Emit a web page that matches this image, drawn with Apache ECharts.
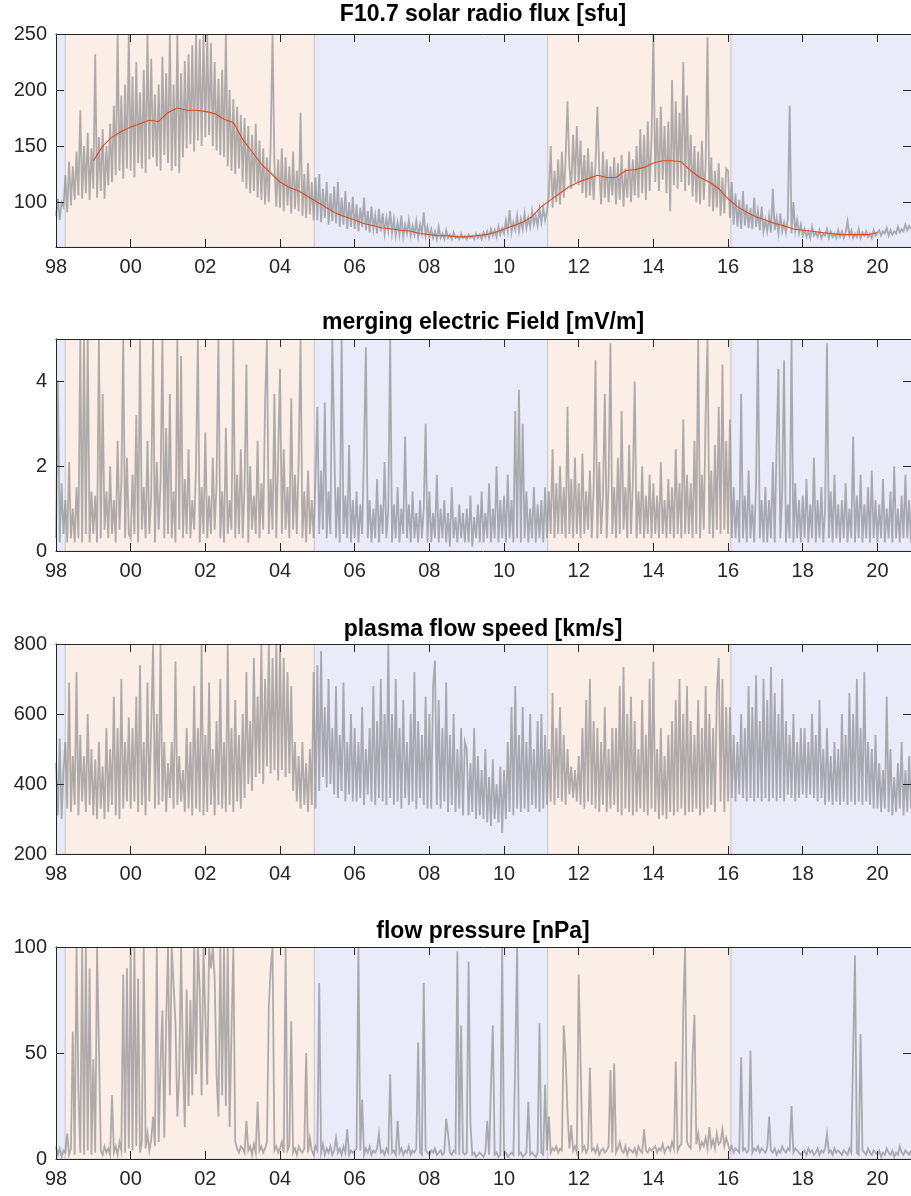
<!DOCTYPE html>
<html><head><meta charset="utf-8">
<script src="https://cdn.jsdelivr.net/npm/echarts@6/dist/echarts.min.js"></script>
<style>html,body{margin:0;padding:0;background:#fff}#c{width:911px;height:1196px}</style>
</head><body><div id="c"></div>
<script>
// ---------------- DATA ----------------
const startYear = 1998;
const samplesPerYear = 20;           // one row per year, 20 samples per row
const xTickYears = [1998,2000,2002,2004,2006,2008,2010,2012,2014,2016,2018,2020];
const phaseStarts = [1998.0, 1998.25, 2004.92, 2011.17, 2016.08];
const phaseEnds   = [1998.25, 2004.92, 2011.17, 2016.08, 2021.0];
const phaseKinds  = ['min','max','min','max','min'];

const titles = ['F10.7 solar radio flux [sfu]','merging electric Field [mV/m]','plasma flow speed [km/s]','flow pressure [nPa]'];
const yTicksF107 = [100,150,200,250];
const yTicksEfield = [0,2,4];
const yTicksSpeed = [200,400,600,800];
const yTicksPressure = [0,50,100];

const f107Rows = [
 [88,103,84,100,96,124,91,136,97,132,102,145,106,182,103,150,108,162,102,148],
 [112,232,104,158,110,165,103,150,115,170,118,186,124,250,128,195,121,205,130,250],
 [128,212,122,225,135,198,130,218,126,250,138,228,140,196,132,205,128,230,142,215],
 [135,250,128,205,132,250,126,215,140,226,148,232,152,240,145,250,155,245,150,250],
 [158,250,160,242,150,225,146,210,142,218,140,250,132,200,128,192,125,185,130,178],
 [118,175,112,168,108,160,110,170,104,155,102,148,98,140,100,152,250,135,96,138],
 [95,148,92,140,97,132,90,145,94,128,92,180,88,125,86,135,89,118,84,122],
 [84,125,82,112,86,118,80,108,83,114,81,118,78,104,80,110,76,100,78,105],
 [76,98,74,95,78,104,75,92,73,96,76,88,72,94,74,90,72,86,75,92],
 [72,85,70,82,71,88,69,80,72,84,70,79,71,83,69,80,72,91,70,78],
 [69,76,68,74,67,78,68,72,67,75,68,71,67,73,68,70,67,72,68,70],
 [67,71,68,70,67,72,68,71,67,73,69,74,68,76,70,75,69,78,71,77],
 [72,84,74,93,73,82,75,88,74,85,76,90,77,86,78,92,80,88,79,94],
 [82,95,84,92,105,150,95,128,100,138,98,145,104,140,190,132,112,160,118,168],
 [115,155,108,142,104,148,106,136,102,135,185,130,98,145,104,138,100,132,106,140],
 [98,135,102,142,96,130,104,145,100,138,106,150,104,165,108,160,102,172,110,158],
 [250,118,175,110,185,120,168,108,172,92,209,115,190,112,180,118,225,110,195,115],
 [160,105,150,100,145,98,155,102,135,247,96,140,92,128,95,135,88,122,90,130],
 [128,86,118,80,108,78,102,76,110,79,98,77,95,76,104,78,92,75,96,74],
 [84,74,88,73,112,75,86,72,90,74,82,73,85,186,72,100,74,84,72,80],
 [70,76,69,74,68,78,70,73,69,75,68,72,70,76,68,74,69,72,68,75],
 [69,74,68,73,83,70,75,68,72,69,76,68,73,70,74,69,72,68,75,70],
 [71,75,70,74,72,77,70,75,71,74,72,78,73,76,74,80,75,79,76]
];
// smoothed F10.7 (red), quarterly from 1999.00
const f107SmoothStart = 1999.0;
const f107SmoothPerYear = 4;
const f107Smooth = [137,150,158,163, 167,170,173,172, 180,184,182,182, 181,179,174,171,
 156,145,134,126, 118,113,110,105, 100,95,90,87, 84,81,79,77, 76,75,74,72, 71,70,70,69,
 69,70,71,73, 76,79,82,87, 96,102,108,114, 118,121,124,122, 122,128,129,131, 135,137,137,136,
 128,122,118,112, 103,96,91,87, 84,81,79,76, 75,74,73,72, 71,71,71,71, 73];

const efieldRows = [
 [0.3,4.0,0.2,1.6,0.4,1.2,0.2,2.1,0.3,1.0,0.2,1.5,0.3,5,0.2,5,0.4,5,0.2,1.4],
 [0.4,1.3,0.2,5,0.3,3.7,0.5,1.4,0.3,2.0,0.4,1.2,0.2,2.6,0.5,1.6,5,0.3,2.2,0.4],
 [0.3,1.8,0.4,3.2,0.2,5,0.5,1.5,0.3,2.6,0.4,1.3,5,0.2,2.1,0.5,1.6,5,0.3,2.9],
 [0.4,3.7,0.3,1.4,0.2,5,0.5,4.6,0.3,1.7,0.4,2.4,0.3,1.2,0.5,2.0,5,0.2,1.5,0.4],
 [2.8,0.3,1.3,0.4,2.2,0.5,1.6,5,0.3,1.4,0.2,2.9,0.4,1.2,0.5,5,0.3,1.8,0.4,2.4],
 [0.3,1.5,4.4,0.2,2.0,0.5,1.3,0.4,2.6,0.3,1.6,0.5,3.5,5,0.4,1.7,0.5,3.7,0.3,2.2],
 [4.3,0.4,2.4,0.5,1.5,0.3,3.6,0.5,1.8,0.4,2.2,5,0.3,1.4,0.2,1.9,0.4,1.2,0.3,1.7],
 [3.4,0.4,1.9,0.5,3.5,0.3,1.4,0.4,5,5,0.3,1.5,0.2,5,0.4,1.3,0.3,2.5,0.2,1.2],
 [0.3,1.4,0.2,1.1,0.4,2.4,4.8,0.3,1.2,0.2,1.0,0.3,1.7,0.2,1.1,0.4,2.1,0.3,1.0,5],
 [0.2,1.1,0.3,1.5,0.2,1.0,0.4,2.7,0.3,1.1,0.2,1.4,0.3,0.9,0.2,1.2,0.3,1.0,3.0,0.2],
 [1.4,0.2,0.9,0.3,1.8,0.2,1.0,0.3,1.2,0.2,0.9,0.1,1.5,0.3,0.8,0.2,1.1,0.3,0.9,0.2],
 [1.0,0.2,1.3,0.1,0.8,0.3,1.1,0.2,1.4,0.2,0.9,0.3,1.6,0.2,1.0,0.3,2.0,0.2,1.2,0.3],
 [1.3,0.2,1.8,0.3,1.2,0.2,3.3,0.3,3.8,0.2,3.0,0.3,1.4,0.2,1.0,0.3,1.5,0.2,1.1,0.3],
 [1.2,0.2,1.5,0.3,1.4,0.4,2.4,0.3,1.6,0.4,2.0,0.4,1.5,0.3,3.4,0.4,1.7,0.3,2.2,0.4],
 [1.6,0.3,2.3,0.4,1.4,0.5,1.9,0.3,1.5,4.5,0.3,2.1,0.4,1.3,3.7,0.3,1.6,4.9,0.4,1.5],
 [0.3,2.2,0.4,3.3,0.5,1.5,0.3,2.5,0.4,1.6,4.0,0.3,1.4,0.4,2.0,0.3,1.3,0.4,1.8,0.3],
 [1.6,0.4,1.3,0.3,2.1,0.4,1.2,0.3,1.7,0.4,1.5,0.3,2.4,0.4,1.6,0.3,3.1,0.4,1.8,0.4],
 [1.6,0.3,2.6,0.4,5,0.3,1.8,0.5,3.2,5,0.4,1.9,0.3,2.5,0.5,3.4,0.4,4.4,0.5,2.6],
 [0.4,3.1,0.3,1.5,0.3,1.2,0.2,3.7,0.3,1.3,0.2,1.9,0.3,1.1,0.2,1.6,5,0.3,1.2,0.2],
 [1.5,0.2,1.2,0.3,2.1,0.2,2.5,4.3,0.3,1.4,4.5,0.2,1.1,0.3,5,0.2,1.6,0.3,1.2,0.2],
 [1.3,0.3,1.7,0.2,1.1,0.3,2.2,0.2,1.2,0.3,1.5,0.2,1.0,4.9,0.3,1.4,0.2,1.8,0.3,1.1],
 [0.2,1.2,0.3,1.6,0.2,1.0,0.3,2.7,0.2,1.3,0.3,1.8,0.2,1.1,0.3,1.5,0.2,1.9,0.3,1.2],
 [0.2,1.1,0.3,1.7,0.2,1.0,0.3,1.4,0.2,2.0,0.3,1.0,0.2,1.3,0.3,1.8,0.3,1.2,0.2]
];

const speedRows = [
 [460,310,530,300,440,520,330,690,320,480,340,720,310,540,350,480,320,600,340,500],
 [310,470,300,520,330,450,300,560,320,500,340,650,310,560,300,700,330,520,350,590],
 [330,560,350,650,320,740,340,520,310,690,350,560,800,330,600,340,800,350,520,320],
 [460,360,520,330,750,340,480,350,440,320,560,330,520,310,680,330,560,320,800,310],
 [540,320,690,340,500,310,580,340,700,330,520,320,800,340,560,320,640,350,540,330],
 [600,360,720,400,580,380,760,420,650,430,800,400,700,450,800,430,760,440,800,410],
 [800,440,760,420,720,430,680,380,520,350,480,330,520,340,460,320,500,340,720,330],
 [740,380,780,420,620,390,700,400,560,370,680,360,540,380,690,350,520,370,600,350],
 [560,350,520,360,620,340,500,370,560,350,680,340,580,360,700,350,600,340,800,360],
 [600,340,700,350,560,330,640,360,520,340,600,350,720,330,580,360,540,340,650,330],
 [600,330,680,753,340,640,330,560,350,690,320,540,340,600,320,500,330,560,310,520],
 [500,310,460,320,560,300,480,310,440,300,500,290,420,280,470,300,400,290,450,260],
 [440,300,520,320,620,310,680,330,540,320,620,330,520,320,600,340,500,330,580,320],
 [600,330,540,340,500,350,660,340,560,360,620,350,540,340,500,370,450,360,440,350],
 [480,340,560,330,640,350,700,340,580,330,560,320,520,340,620,320,500,330,560,340],
 [560,320,680,310,734,330,600,320,650,310,580,320,500,330,640,320,540,310,700,330],
 [750,320,500,300,560,310,480,300,540,320,580,310,640,320,700,330,600,310,680,320],
 [580,320,540,330,640,310,560,320,680,330,600,340,560,320,660,760,350,700,320,620],
 [350,620,360,540,350,520,370,600,360,560,350,680,360,620,350,711,360,580,350,700],
 [360,640,350,734,360,660,350,600,360,700,350,580,370,540,360,600,350,520,360,560],
 [370,560,360,520,370,600,360,540,350,640,360,500,340,560,350,480,340,520,350,500],
 [340,600,350,540,340,660,350,600,340,700,350,560,340,720,350,520,340,500,330,540],
 [330,460,320,440,330,650,320,500,310,420,320,460,330,520,310,440,320,480,330]
];

const pressureRows = [
 [6,2,5,1,4,3,12,2,5,60,2,100,32,3,100,2,100,4,90,2],
 [47,3,100,100,4,2,6,3,5,2,30,3,6,2,8,4,87,3,90,5],
 [100,4,100,6,85,3,8,100,5,12,4,9,20,6,100,8,45,70,10,65],
 [100,30,100,100,64,20,40,100,45,15,80,25,75,30,100,40,100,80,30,100],
 [100,35,100,90,100,85,40,20,100,30,100,25,100,15,60,100,8,5,3,6],
 [5,3,18,4,6,2,7,3,27,4,6,3,5,8,72,90,100,4,6,3],
 [5,8,3,100,4,6,65,3,5,2,6,4,3,5,50,3,10,4,2,6],
 [4,83,3,7,2,5,3,6,2,4,10,3,5,2,6,3,14,2,4,3],
 [3,5,100,4,28,2,5,3,6,2,4,3,5,12,3,4,2,5,3,40],
 [3,4,2,18,3,5,2,4,3,6,2,4,3,5,55,3,2,83,4,3],
 [2,4,3,5,2,3,4,2,3,19,12,3,2,4,3,98,2,63,3,2],
 [3,93,17,2,3,1,2,3,2,1,3,18,2,35,63,2,3,1,2,100],
 [2,3,1,2,3,2,45,100,2,3,1,2,3,27,2,3,2,1,3,64],
 [3,2,35,4,20,3,5,4,6,3,5,4,63,48,22,5,16,4,6,3],
 [87,87,4,6,3,5,43,4,5,3,6,2,4,5,3,4,6,42,3,45],
 [3,5,8,4,3,6,2,5,4,3,5,2,6,4,3,14,4,3,5,4],
 [4,6,3,5,4,7,3,5,6,4,8,5,46,4,6,7,70,100,8,6],
 [5,48,68,7,12,5,8,6,10,5,15,6,9,5,12,7,8,14,6,10],
 [7,4,6,3,5,4,3,48,4,5,3,4,51,3,5,4,6,3,5,4],
 [3,5,20,4,3,5,2,4,3,6,4,3,5,4,25,3,5,4,3,2],
 [3,4,2,5,3,4,2,3,5,2,4,3,5,12,3,4,2,5,3,4],
 [3,2,4,3,2,5,3,50,96,3,2,59,4,3,2,5,3,2,4,3],
 [2,4,1,3,2,5,3,2,4,1,3,2,6,3,2,4,3,2,4]
];

// ---------------- BUILD ----------------
function rowsToPoints(rows) {
  const pts = [];
  rows.forEach((row, r) => row.forEach((v, k) => pts.push([startYear + r + k / samplesPerYear, v])));
  return pts;
}
const smoothPts = f107Smooth.map((v, i) => [f107SmoothStart + i / f107SmoothPerYear, v]);
const phaseData = phaseStarts.map((s, i) => [s, phaseEnds[i], phaseKinds[i] === 'max' ? 1 : 0]);

const FONT = "'Liberation Sans', Arial, sans-serif";
const TXT = '#262626';
const X_MIN = 1998, X_MAX = 2020.9;
const panels = [
  { top: 34,  height: 213, min: 60,  max: 250, ticks: yTicksF107,     data: rowsToPoints(f107Rows),     titleY: 15 },
  { top: 339, height: 212, min: 0,   max: 5,   ticks: yTicksEfield,   data: rowsToPoints(efieldRows),   titleY: 323 },
  { top: 644, height: 210, min: 200, max: 800, ticks: yTicksSpeed,    data: rowsToPoints(speedRows),    titleY: 630 },
  { top: 947, height: 212, min: 0,   max: 100, ticks: yTicksPressure, data: rowsToPoints(pressureRows), titleY: 932 }
];

const grid = [], xAxis = [], yAxis = [], series = [], graphic = [];
const axisLine = { show: true, onZero: false, lineStyle: { color: TXT, width: 1 } };
panels.forEach((p, i) => {
  grid.push({ left: 56, right: -3.75, top: p.top, height: p.height, show: false });
  const xBase = { type: 'value', gridIndex: i, min: X_MIN, max: X_MAX, z: 10, splitLine: { show: false }, axisLine };
  xAxis.push(Object.assign({}, xBase, {
    position: 'bottom',
    axisTick: { show: true, inside: true, length: 8, customValues: xTickYears, lineStyle: { color: TXT } },
    axisLabel: { show: true, customValues: xTickYears, formatter: v => String(v % 100).padStart(2, '0'),
      fontSize: 20, color: TXT, fontFamily: FONT, margin: 10 }
  }));
  xAxis.push(Object.assign({}, xBase, {
    position: 'top',
    axisTick: { show: true, inside: true, length: 8, customValues: xTickYears, lineStyle: { color: TXT } },
    axisLabel: { show: false }
  }));
  const yBase = { type: 'value', gridIndex: i, min: p.min, max: p.max, z: 10, splitLine: { show: false }, axisLine };
  yAxis.push(Object.assign({}, yBase, {
    position: 'left',
    axisTick: { show: true, inside: true, length: 8, customValues: p.ticks, lineStyle: { color: TXT } },
    axisLabel: { show: true, customValues: p.ticks, fontSize: 20, color: TXT, fontFamily: FONT, margin: 9 }
  }));
  yAxis.push(Object.assign({}, yBase, {
    position: 'right',
    axisTick: { show: true, inside: true, length: 8, customValues: p.ticks, lineStyle: { color: TXT } },
    axisLabel: { show: false }
  }));
  series.push({
    type: 'custom', xAxisIndex: 2 * i, yAxisIndex: 2 * i, z: 1, silent: true, clip: true,
    data: phaseData,
    renderItem: (params, api) => {
      const cs = params.coordSys;
      const x0 = api.coord([api.value(0), p.min])[0];
      const x1 = api.coord([api.value(1), p.min])[0];
      return { type: 'rect', shape: { x: x0, y: cs.y, width: x1 - x0, height: cs.height },
        style: { fill: api.value(2) === 1 ? '#FAEEE6' : '#E9ECF8', stroke: 'rgba(150,150,165,0.35)', lineWidth: 1 } };
    }
  });
  series.push({
    type: 'line', xAxisIndex: 2 * i, yAxisIndex: 2 * i, z: 2, data: p.data,
    showSymbol: false, symbol: 'none', clip: true, silent: true,
    lineStyle: { color: 'rgba(125,125,128,0.6)', width: 1.8, join: 'miter' }
  });
  graphic.push({ type: 'text', x: 483, y: p.titleY, z: 20,
    style: { text: titles[i], fill: '#000', font: "bold 23px " + FONT, align: 'center', verticalAlign: 'middle',
      textAlign: 'center', textVerticalAlign: 'middle' } });
});
series.push({
  type: 'line', xAxisIndex: 0, yAxisIndex: 0, z: 3, data: smoothPts,
  showSymbol: false, symbol: 'none', silent: true,
  lineStyle: { color: '#DE4A1E', width: 1.1 }
});

const chart = echarts.init(document.getElementById('c'), null, { renderer: 'canvas' });
chart.setOption({ animation: false, backgroundColor: '#fff', grid, xAxis, yAxis, series, graphic });
</script>
</body></html>
